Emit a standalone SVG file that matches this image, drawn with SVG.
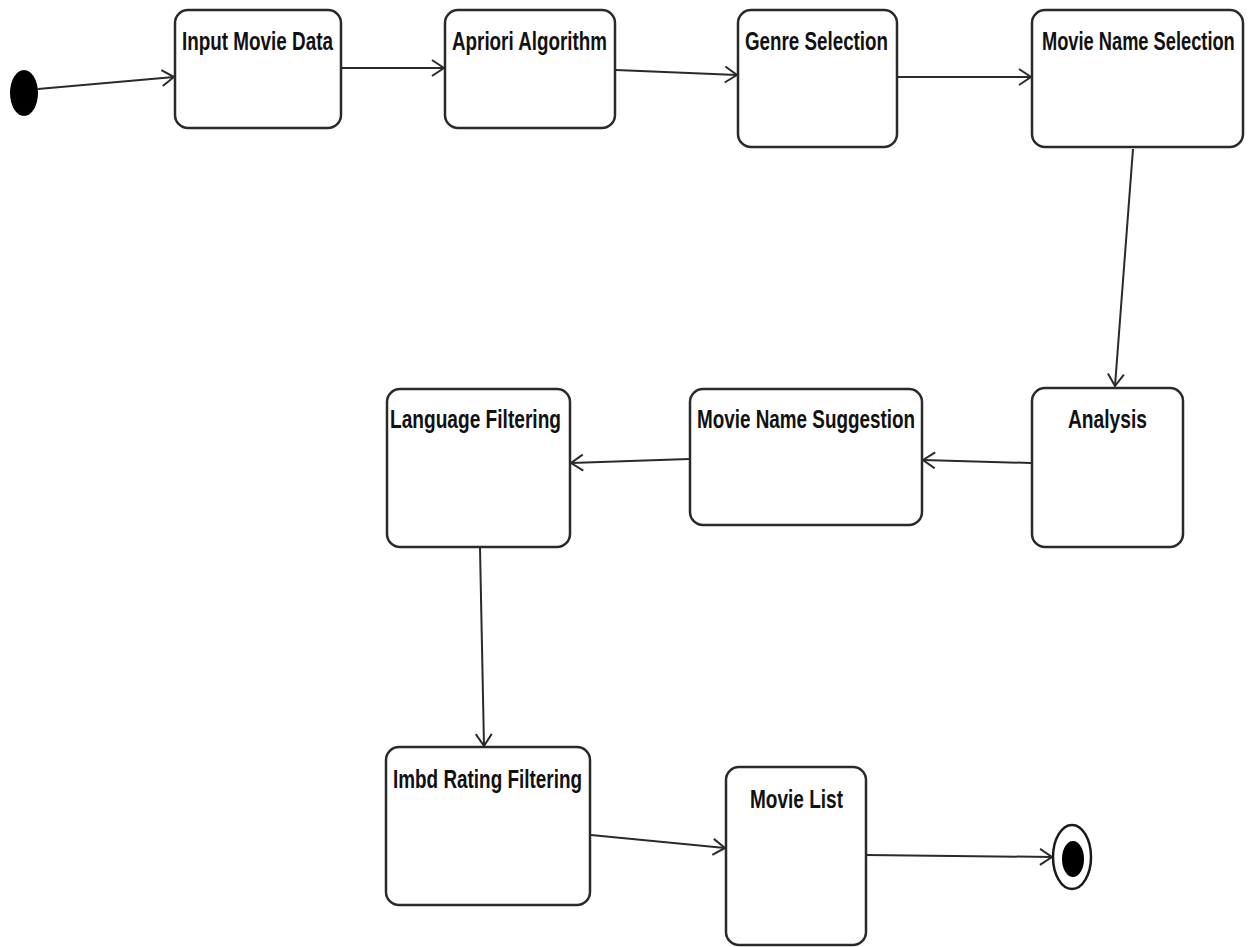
<svg xmlns="http://www.w3.org/2000/svg" width="1252" height="947" viewBox="0 0 1252 947">
<style>
.box{fill:#fff;stroke:#2a2a2a;stroke-width:2.5}
.lbl{font-family:"Liberation Sans",Arial,sans-serif;font-weight:bold;font-size:25px;fill:#111}
.edge{fill:none;stroke:#2a2a2a;stroke-width:2;marker-end:url(#arr)}
</style>
<defs>
<marker id="arr" markerWidth="16" markerHeight="20" refX="13" refY="9" orient="auto" markerUnits="userSpaceOnUse">
<path d="M1,1 L13,9 L1,17" fill="none" stroke="#2a2a2a" stroke-width="2"/>
</marker>
</defs>
<rect width="1252" height="947" fill="#fff"/>
<g id="connectors">
<line class="edge" x1="38" y1="89" x2="174" y2="77"/>
<line class="edge" x1="341" y1="68" x2="444" y2="68"/>
<line class="edge" x1="616" y1="70" x2="737" y2="75"/>
<line class="edge" x1="898" y1="77" x2="1031" y2="77"/>
<line class="edge" x1="1133" y1="149" x2="1115" y2="386"/>
<line class="edge" x1="1031" y1="463" x2="923" y2="460"/>
<line class="edge" x1="689" y1="459" x2="571" y2="463"/>
<line class="edge" x1="480" y1="548" x2="484" y2="746"/>
<line class="edge" x1="591" y1="835" x2="725" y2="848"/>
<line class="edge" x1="866" y1="855" x2="1052" y2="857"/>
</g>
<g id="start"><ellipse cx="24" cy="93" rx="14" ry="23" fill="#000"/></g>
<g id="n1"><rect class="box" x="175" y="10" width="166" height="118" rx="13"/><text class="lbl" x="182" y="50" textLength="151" lengthAdjust="spacingAndGlyphs">Input Movie Data</text></g>
<g id="n2"><rect class="box" x="445" y="10" width="170" height="118" rx="13"/><text class="lbl" x="452" y="50" textLength="155" lengthAdjust="spacingAndGlyphs">Apriori Algorithm</text></g>
<g id="n3"><rect class="box" x="738" y="10" width="159" height="137" rx="13"/><text class="lbl" x="745" y="50" textLength="143" lengthAdjust="spacingAndGlyphs">Genre Selection</text></g>
<g id="n4"><rect class="box" x="1032" y="10" width="211" height="137" rx="13"/><text class="lbl" x="0" y="0" transform="translate(1042,50) scale(0.75,1)" textLength="257" lengthAdjust="spacingAndGlyphs">Movie Name Selection</text></g>
<g id="n5"><rect class="box" x="1032" y="388" width="151" height="159" rx="13"/><text class="lbl" x="1068" y="428" textLength="79" lengthAdjust="spacingAndGlyphs">Analysis</text></g>
<g id="n6"><rect class="box" x="690" y="389" width="232" height="136" rx="13"/><text class="lbl" x="697" y="428" textLength="218" lengthAdjust="spacingAndGlyphs">Movie Name Suggestion</text></g>
<g id="n7"><rect class="box" x="387" y="389" width="183" height="158" rx="13"/><text class="lbl" x="390" y="428" textLength="171" lengthAdjust="spacingAndGlyphs">Language Filtering</text></g>
<g id="n8"><rect class="box" x="386" y="747" width="204" height="158" rx="13"/><text class="lbl" x="393" y="788" textLength="189" lengthAdjust="spacingAndGlyphs">Imbd Rating Filtering</text></g>
<g id="n9"><rect class="box" x="726" y="767" width="140" height="178" rx="13"/><text class="lbl" x="750" y="808" textLength="93" lengthAdjust="spacingAndGlyphs">Movie List</text></g>
<g id="end"><ellipse cx="1072" cy="857" rx="19" ry="32" fill="#fff" stroke="#1a1a1a" stroke-width="2.5"/><ellipse cx="1073" cy="859" rx="11" ry="18" fill="#000"/></g>
</svg>
